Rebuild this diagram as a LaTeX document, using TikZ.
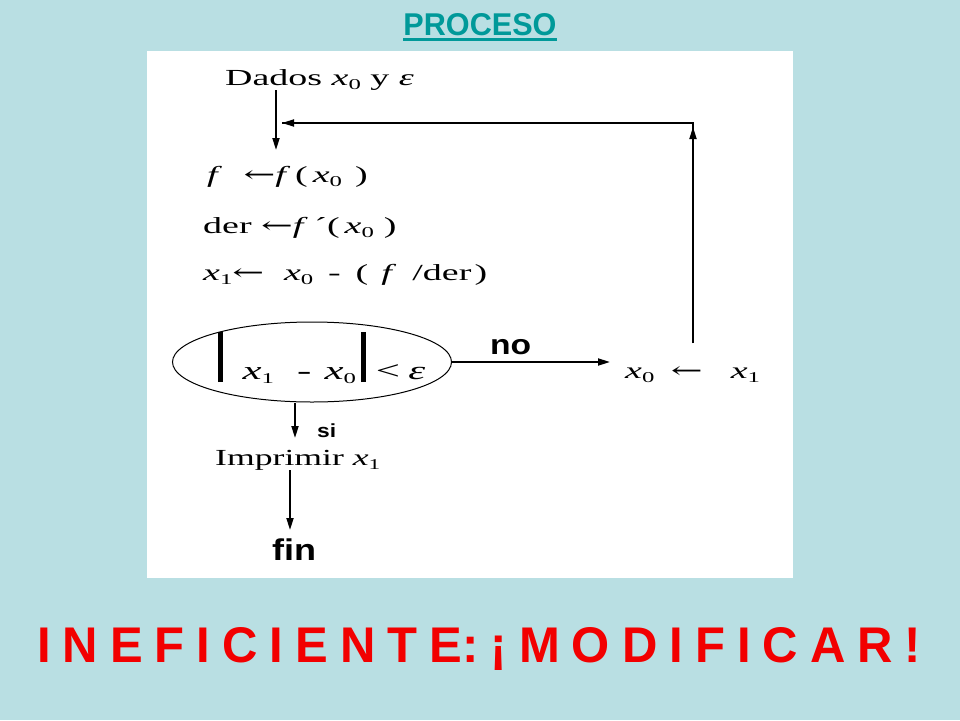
\documentclass[tikz,border=0pt]{standalone}
\usepackage{fontspec}
\setmainfont{Liberation Serif}
\setsansfont{Liberation Sans}
\newfontfamily\dvs{DejaVu Serif}
\usepackage{graphicx}
\usetikzlibrary{arrows.meta,shapes.geometric}
\definecolor{bg}{HTML}{B9DFE3}
\definecolor{tealt}{HTML}{009999}
\definecolor{redt}{HTML}{F20000}
\newcommand\wser[1]{\scalebox{1.65}[1]{#1}}
\newcommand\wsan[1]{\scalebox{1.2}[1]{#1}}
\newcommand\thickbar{\rule[-3pt]{3pt}{50pt}}
\newcommand\sbs[1]{\raisebox{-4pt}{\fontsize{15}{15}\selectfont #1}}
\newcommand\lar{{\dvs ←}}
\newcommand\hs[1]{\hspace{#1pt}}
\newcommand\rg{\hspace{12pt}}
\begin{document}
\begin{tikzpicture}[x=1pt,y=-1pt,
  txt/.style={inner sep=0pt, anchor=base west, font=\fontsize{23}{25}\selectfont},
  lbl/.style={inner sep=0pt, anchor=base west},
  arr/.style={line width=1.8pt, -{Triangle[length=12pt,width=7pt]}},
  plain/.style={line width=1.8pt}
  ]
\useasboundingbox (0,0) rectangle (960,720);
\fill[bg] (0,0) rectangle (960,720);
\fill[white] (147,51) rectangle (793,578);

% title
\node[inner sep=0pt, anchor=base, text=tealt, font=\sffamily\bfseries] (title) at (480,35) {\resizebox{153pt}{22pt}{PROCESO}};
\draw[tealt, line width=2.5pt] ([yshift=-4.5pt]title.base west) -- ([yshift=-4.5pt]title.base east);

% flowchart texts
\node[txt] (dados) at (225,85) {\wser{Dados \textit{x}\sbs{0} y \textit{ε}}};
\node[txt] (f1) at (207,182) {\wser{\textit{f}\hs{13}\lar\textit{f}\hs{3}(\hs{3}\textit{x}\sbs{0}\hs{8})}};
\node[txt] (der) at (203,233) {\wser{der \lar\textit{f}\hs{4}´(\hs{3}\textit{x}\sbs{0}\hs{6})}};
\node[txt] (x1) at (203,280) {\wser{\textit{x}\sbs{1}\lar\hs{12}\textit{x}\sbs{0}\hs{9}-\hs{9}(\hs{8}\textit{f}\hs{4} /der\hs{2})}};
\node[ellipse, draw, line width=1pt, minimum width=279pt, minimum height=80pt, inner sep=0pt] (cond) at (312,362) {};
\node[inner sep=0pt, font=\fontsize{26}{28}\selectfont] (condtxt) at (cond.center)
      {\hspace{19pt}\raisebox{5pt}[47pt][3pt]{\wser{\thickbar\hs{12}\textit{x}\sbs{1}\hs{14}-\hs{8}\textit{x}\sbs{0}\hs{3}\thickbar\hs{6}<\hs{5}\textit{ε}}}};
\node[txt] (asig) at (625,378) {\wser{\textit{x}\sbs{0}\hs{10}\lar\hs{17}\textit{x}\sbs{1}}};
\node[txt] (imp) at (215,465) {\scalebox{1.55}[1]{Imprimir \textit{x}\sbs{1}}};

\node[lbl, font=\fontsize{28}{30}\sffamily\bfseries] (no) at (490,354) {\wsan{no}};
\node[lbl, font=\fontsize{19}{21}\sffamily\bfseries] (si) at (317,437) {\wsan{si}};
\node[lbl, font=\fontsize{30}{32}\sffamily\bfseries] (fin) at (272,560) {\wsan{fin}};

% connectors
\coordinate (a1) at (276,0);
\coordinate (a1e) at (276,150);
\draw[arr] (dados.south -| a1) -- (a1e);

\coordinate (noend) at (610,362);
\draw[arr] (cond.east) -- (noend);

\coordinate (up0) at (693,343);
\coordinate (uptip) at (693,127);
\coordinate (join) at (282,123);
\draw[plain] (up0) |- (join);
\draw[arr] (up0) -- (uptip);
\draw[arr] (692,123) -- (join);

\coordinate (b1) at (295,0);
\coordinate (b1e) at (295,438);
\draw[arr] (cond.south -| b1) -- (b1e);

\coordinate (c1) at (290,0);
\coordinate (c1e) at (290,530);
\draw[arr] (imp.south -| c1) -- (c1e);

% bottom message
\node[inner sep=0pt, anchor=base west, text=redt, font=\fontsize{48.9}{50}\sffamily\bfseries] (msg) at (37,662)
  {\resizebox{884pt}{35pt}{I\rg N\rg E\rg F\rg I\rg C\rg I\rg E\rg N\rg T\rg E:\rg ¡\rg M\rg O\rg D\rg I\rg F\rg I\rg C\rg A\rg R\rg !}};
\end{tikzpicture}
\end{document}
